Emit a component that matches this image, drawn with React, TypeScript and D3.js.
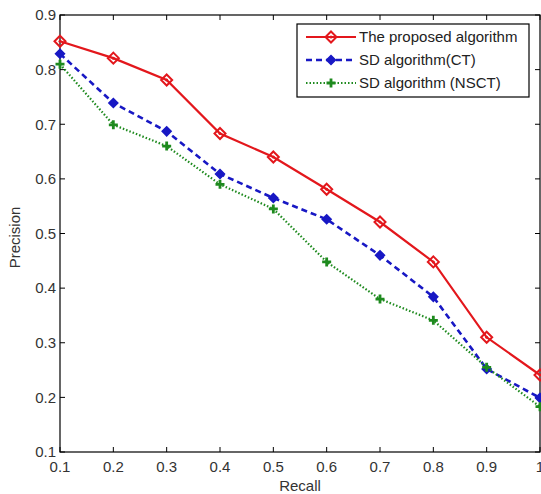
import React from "react";
import * as d3 from "d3";

const recall = [0.1, 0.2, 0.3, 0.4, 0.5, 0.6, 0.7, 0.8, 0.9, 1.0];
const proposed = [0.852, 0.821, 0.781, 0.683, 0.64, 0.581, 0.521, 0.448, 0.31, 0.241];
const sdCT = [0.829, 0.739, 0.687, 0.609, 0.565, 0.526, 0.46, 0.384, 0.252, 0.199];
const sdNSCT = [0.81, 0.699, 0.66, 0.59, 0.545, 0.448, 0.38, 0.341, 0.255, 0.183];
const xTicks = [0.1, 0.2, 0.3, 0.4, 0.5, 0.6, 0.7, 0.8, 0.9, 1];
const yTicks = [0.1, 0.2, 0.3, 0.4, 0.5, 0.6, 0.7, 0.8, 0.9];
const seriesNames = ["The proposed algorithm", "SD  algorithm(CT)", "SD algorithm (NSCT)"];

const W = 541, H = 494;
const L = 60, R = 540, T = 15, B = 452;
const FONT = "'Liberation Sans', Arial, sans-serif";

const x = d3.scaleLinear().domain([0.1, 1]).range([L, R]);
const y = d3.scaleLinear().domain([0.1, 0.9]).range([B, T]);

const RED = "#e3171c";
const BLUE = "#1818c4";
const GREEN = "#1e8a1e";

type Kind = "diamondOpen" | "diamondFill" | "plus";

function Marker({ cx, cy, kind, color }: { cx: number; cy: number; kind: Kind; color: string }) {
  if (kind === "diamondOpen") {
    const s = 5.5;
    return (
      <g>
        <path d={`M${cx},${cy - s}L${cx + s},${cy}L${cx},${cy + s}L${cx - s},${cy}Z`} fill="none" stroke={color} strokeWidth={2} />
        <circle cx={cx} cy={cy} r={1.5} fill={color} />
      </g>
    );
  }
  if (kind === "diamondFill") {
    const s = 4.5;
    return <path d={`M${cx},${cy - s}L${cx + s},${cy}L${cx},${cy + s}L${cx - s},${cy}Z`} fill={color} stroke={color} strokeWidth={1.5} />;
  }
  const s = 4.5;
  return <path d={`M${cx - s},${cy}L${cx + s},${cy}M${cx},${cy - s}L${cx},${cy + s}`} stroke={color} strokeWidth={2.8} />;
}

const series = [
  { name: seriesNames[0], values: proposed, color: RED, dash: undefined as string | undefined, width: 2.2, kind: "diamondOpen" as Kind },
  { name: seriesNames[1], values: sdCT, color: BLUE, dash: "6,4", width: 2.6, kind: "diamondFill" as Kind },
  { name: seriesNames[2], values: sdNSCT, color: GREEN, dash: "1.5,2", width: 2.2, kind: "plus" as Kind },
];

export default function App() {
  const line = d3
    .line<number>()
    .x((_, i) => x(recall[i]))
    .y((v) => y(v));

  const tick = 5;
  const legX = 297, legY = 24, legW = 232, legH = 73;
  const rowY = [37, 60, 83];

  return (
    <div style={{ position: "fixed", left: 0, top: 0, background: "#fff" }}>
      <svg width={W} height={H} style={{ display: "block", fontFamily: FONT }}>
        <rect x={0} y={0} width={W} height={H} fill="#fff" />
        <defs>
          <clipPath id="plotclip">
            <rect x={L - 8} y={T - 8} width={R - L + 16} height={B - T + 16} />
          </clipPath>
        </defs>
        {/* axes box */}
        <rect x={L} y={T} width={R - L} height={B - T} fill="none" stroke="#000" strokeWidth={1.2} />
        {xTicks.map((t) => (
          <g key={"xt" + t}>
            <line x1={x(t)} x2={x(t)} y1={B} y2={B - tick} stroke="#000" strokeWidth={1} />
            <line x1={x(t)} x2={x(t)} y1={T} y2={T + tick} stroke="#000" strokeWidth={1} />
            <text x={x(t)} y={B + 20} textAnchor="middle" fontSize={15} fill="#333">
              {d3.format("~g")(t)}
            </text>
          </g>
        ))}
        {yTicks.map((t) => (
          <g key={"yt" + t}>
            <line x1={L} x2={L + tick} y1={y(t)} y2={y(t)} stroke="#000" strokeWidth={1} />
            <line x1={R} x2={R - tick} y1={y(t)} y2={y(t)} stroke="#000" strokeWidth={1} />
            <text x={L - 4} y={y(t)} dy="0.35em" textAnchor="end" fontSize={15} fill="#333">
              {d3.format(".1f")(t)}
            </text>
          </g>
        ))}
        <text x={(L + R) / 2} y={491} textAnchor="middle" fontSize={15} fill="#333">
          Recall
        </text>
        <text transform={`translate(20,${(T + B) / 2 + 4}) rotate(-90)`} textAnchor="middle" fontSize={15} fill="#333">
          Precision
        </text>

        <g clipPath="url(#plotclip)">
          {series.map((s) => (
            <g key={s.name}>
              <path d={line(s.values) || ""} fill="none" stroke={s.color} strokeWidth={s.width} strokeDasharray={s.dash} />
              {s.values.map((v, i) => (
                <Marker key={i} cx={x(recall[i])} cy={y(v)} kind={s.kind} color={s.color} />
              ))}
            </g>
          ))}
        </g>

        {/* legend */}
        <rect x={legX} y={legY} width={legW} height={legH} fill="#fff" stroke="#000" strokeWidth={1.2} />
        {series.map((s, i) => (
          <g key={"leg" + i}>
            <line x1={306} x2={356} y1={rowY[i]} y2={rowY[i]} stroke={s.color} strokeWidth={s.width} strokeDasharray={s.dash} />
            <Marker cx={331} cy={rowY[i]} kind={s.kind} color={s.color} />
            <text x={359} y={rowY[i]} dy="0.35em" fontSize={15} fill="#222">
              {s.name}
            </text>
          </g>
        ))}
      </svg>
    </div>
  );
}
